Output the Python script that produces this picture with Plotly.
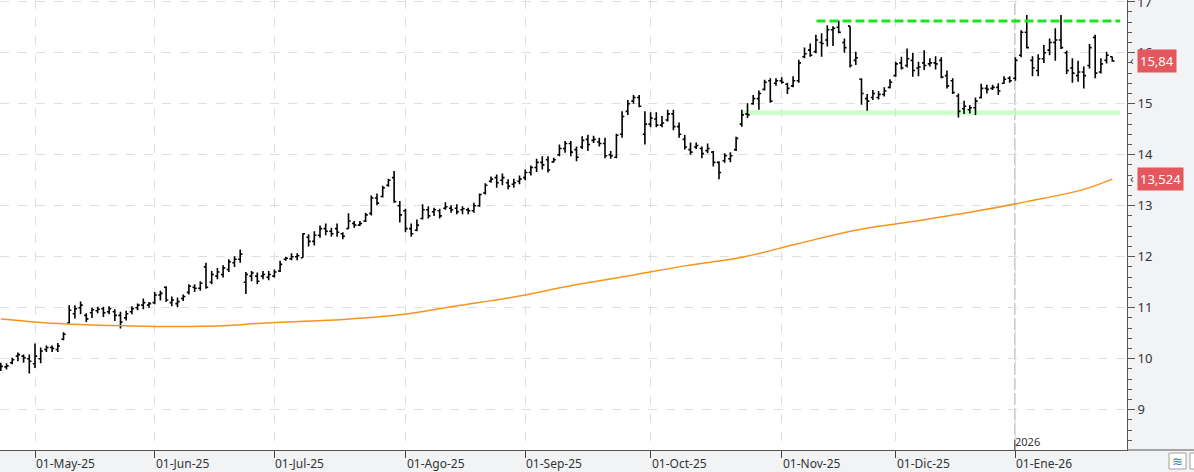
import plotly.graph_objects as go

# ---------------- data ----------------
# bar index = trading-day number (23-Apr-25 ... 27-Jan-26)
bar_open = [
    9.80, 9.84, 9.92, 10.05, 10.05, 10.00, 9.90, 10.00, 10.18, 10.22,
    10.18, 10.38, 10.70, 10.88, 11.00, 10.85, 10.90, 10.94, 10.98, 10.92,
    10.92, 10.85, 10.80, 10.92, 11.00, 11.05, 11.05, 11.10, 11.25, 11.40,
    11.10, 11.08, 11.18, 11.30, 11.40, 11.38, 11.80, 11.50, 11.62, 11.65,
    11.75, 11.88, 11.95, 11.50, 11.62, 11.62, 11.62, 11.60, 11.62, 11.72,
    11.95, 11.96, 12.00, 11.98, 12.38, 12.30, 12.42, 12.55, 12.50, 12.55,
    12.45, 12.55, 12.65, 12.62, 12.70, 12.85, 13.15, 13.18, 13.40, 13.55,
    13.00, 12.90, 12.55, 12.52, 12.75, 12.92, 12.88, 12.90, 12.95, 12.95,
    12.95, 12.92, 12.92, 12.90, 13.00, 13.25, 13.48, 13.55, 13.50, 13.45,
    13.42, 13.48, 13.55, 13.65, 13.75, 13.85, 13.90, 13.86, 14.00, 14.12,
    14.22, 14.10, 14.15, 14.30, 14.28, 14.25, 14.22, 14.00, 13.95, 14.40,
    14.85, 15.05, 15.12, 14.40, 14.60, 14.70, 14.58, 14.68, 14.80, 14.55,
    14.30, 14.10, 14.15, 14.12, 14.08, 14.05, 13.85, 13.88, 13.92, 14.10,
    14.60, 14.80, 15.00, 15.10, 15.28, 15.45, 15.40, 15.45, 15.38, 15.35,
    15.45, 15.92, 16.05, 16.02, 16.20, 16.25, 16.45, 16.50, 16.20, 16.52,
    15.85, 15.48, 15.10, 15.12, 15.12, 15.18, 15.32, 15.55, 15.80, 15.75,
    15.85, 15.70, 15.80, 15.78, 15.80, 15.85, 15.55, 15.45, 15.15, 14.90,
    14.88, 14.92, 15.12, 15.30, 15.30, 15.32, 15.40, 15.50, 15.50, 15.95,
    16.40, 15.85, 15.65, 15.88, 16.05, 16.20, 16.25, 16.00, 15.70, 15.55,
    15.62, 15.75, 16.30, 15.62, 15.85, 15.92,
]
bar_high = [
    9.92, 9.91, 10.02, 10.12, 10.08, 10.08, 10.30, 10.22, 10.26, 10.26,
    10.31, 10.52, 11.05, 11.05, 11.12, 10.89, 11.00, 11.02, 11.02, 11.03,
    10.97, 10.92, 10.94, 11.03, 11.08, 11.18, 11.11, 11.31, 11.33, 11.42,
    11.22, 11.20, 11.26, 11.46, 11.46, 11.52, 11.88, 11.72, 11.78, 11.83,
    11.95, 12.01, 12.14, 11.70, 11.72, 11.69, 11.72, 11.72, 11.75, 11.92,
    12.00, 12.07, 12.07, 12.46, 12.44, 12.50, 12.61, 12.65, 12.57, 12.65,
    12.48, 12.85, 12.70, 12.70, 12.86, 13.20, 13.24, 13.39, 13.53, 13.68,
    13.09, 12.94, 12.65, 12.73, 13.03, 12.99, 12.96, 12.94, 13.07, 13.01,
    13.03, 12.99, 12.96, 13.06, 13.24, 13.44, 13.57, 13.61, 13.63, 13.52,
    13.53, 13.59, 13.71, 13.79, 13.92, 13.97, 13.97, 13.94, 14.20, 14.27,
    14.27, 14.16, 14.36, 14.39, 14.37, 14.33, 14.33, 14.07, 14.41, 14.85,
    15.07, 15.17, 15.17, 14.85, 14.83, 14.83, 14.76, 14.88, 14.88, 14.63,
    14.39, 14.24, 14.24, 14.16, 14.22, 14.07, 13.87, 14.03, 14.05, 14.35,
    14.88, 15.01, 15.17, 15.26, 15.47, 15.50, 15.50, 15.52, 15.41, 15.54,
    15.86, 16.10, 16.18, 16.35, 16.38, 16.54, 16.52, 16.63, 16.28, 16.52,
    16.02, 15.50, 15.19, 15.27, 15.25, 15.32, 15.48, 15.82, 15.92, 16.08,
    16.00, 15.82, 16.05, 15.89, 15.93, 15.91, 15.65, 15.50, 15.20, 15.06,
    14.97, 15.12, 15.39, 15.37, 15.37, 15.40, 15.54, 15.54, 15.91, 16.44,
    16.74, 15.93, 15.97, 16.15, 16.28, 16.48, 16.74, 16.04, 15.89, 15.84,
    15.73, 16.17, 16.35, 15.89, 16.02, 15.92,
]
bar_low = [
    9.76, 9.79, 9.89, 9.95, 9.92, 9.71, 9.82, 9.91, 10.13, 10.13,
    10.13, 10.36, 10.69, 10.79, 10.87, 10.72, 10.80, 10.89, 10.82, 10.87,
    10.74, 10.59, 10.75, 10.87, 10.95, 10.97, 11.00, 11.07, 11.14, 11.11,
    11.03, 11.01, 11.13, 11.26, 11.31, 11.33, 11.37, 11.46, 11.56, 11.59,
    11.70, 11.80, 11.88, 11.27, 11.52, 11.46, 11.56, 11.54, 11.59, 11.70,
    11.92, 11.93, 11.93, 11.98, 12.20, 12.22, 12.37, 12.42, 12.39, 12.39,
    12.34, 12.55, 12.57, 12.60, 12.68, 12.81, 13.01, 13.16, 13.37, 13.06,
    12.67, 12.48, 12.39, 12.50, 12.73, 12.75, 12.80, 12.75, 12.92, 12.86,
    12.83, 12.83, 12.83, 12.86, 12.98, 13.22, 13.45, 13.35, 13.40, 13.32,
    13.35, 13.42, 13.50, 13.59, 13.66, 13.71, 13.65, 13.84, 13.97, 14.04,
    13.97, 13.87, 14.11, 14.07, 14.23, 14.16, 13.93, 13.92, 13.93, 14.33,
    14.78, 15.00, 14.93, 14.20, 14.54, 14.54, 14.54, 14.65, 14.48, 14.33,
    14.10, 14.00, 14.11, 13.93, 14.03, 13.77, 13.52, 13.84, 13.85, 14.07,
    14.55, 14.72, 14.98, 14.88, 15.26, 15.02, 15.35, 15.39, 15.19, 15.32,
    15.41, 15.89, 15.92, 15.99, 15.92, 16.12, 16.13, 16.38, 16.00, 15.71,
    15.76, 14.98, 14.86, 15.07, 15.08, 15.14, 15.30, 15.53, 15.67, 15.71,
    15.53, 15.54, 15.66, 15.73, 15.67, 15.50, 15.30, 15.19, 14.73, 14.80,
    14.81, 14.78, 15.10, 15.20, 15.27, 15.17, 15.39, 15.41, 15.45, 15.91,
    16.08, 15.54, 15.54, 15.80, 15.95, 15.84, 16.07, 15.58, 15.41, 15.43,
    15.30, 15.69, 15.50, 15.59, 15.79, 15.82,
]
bar_close = [
    9.85, 9.86, 9.98, 10.08, 10.02, 9.95, 10.05, 10.15, 10.22, 10.20,
    10.25, 10.48, 10.95, 10.98, 11.05, 10.78, 10.96, 10.97, 10.90, 10.98,
    10.85, 10.72, 10.88, 10.98, 11.05, 11.10, 11.08, 11.25, 11.28, 11.15,
    11.15, 11.12, 11.22, 11.42, 11.38, 11.48, 11.40, 11.65, 11.70, 11.78,
    11.90, 11.95, 12.05, 11.65, 11.68, 11.52, 11.65, 11.65, 11.70, 11.85,
    11.97, 12.00, 12.02, 12.45, 12.30, 12.42, 12.55, 12.50, 12.45, 12.48,
    12.40, 12.70, 12.62, 12.65, 12.82, 13.15, 13.05, 13.35, 13.50, 13.08,
    12.82, 12.55, 12.45, 12.62, 12.92, 12.80, 12.92, 12.80, 12.98, 12.92,
    12.88, 12.94, 12.90, 13.00, 13.22, 13.40, 13.52, 13.45, 13.55, 13.38,
    13.45, 13.52, 13.65, 13.75, 13.85, 13.80, 13.70, 13.90, 14.12, 14.22,
    14.05, 13.95, 14.28, 14.20, 14.30, 14.22, 13.98, 13.98, 14.38, 14.75,
    15.00, 15.12, 14.95, 14.60, 14.72, 14.58, 14.62, 14.80, 14.55, 14.40,
    14.15, 14.05, 14.18, 14.02, 14.12, 13.85, 13.65, 13.98, 13.98, 14.32,
    14.78, 14.78, 15.10, 15.20, 15.42, 15.05, 15.45, 15.42, 15.30, 15.45,
    15.80, 15.98, 15.95, 16.25, 16.18, 16.45, 16.48, 16.40, 16.10, 15.75,
    15.90, 15.20, 15.05, 15.20, 15.18, 15.25, 15.42, 15.78, 15.70, 15.88,
    15.65, 15.72, 15.75, 15.80, 15.78, 15.52, 15.35, 15.22, 14.85, 14.95,
    14.92, 15.05, 15.30, 15.28, 15.32, 15.25, 15.48, 15.45, 15.85, 16.40,
    16.10, 15.70, 15.88, 16.00, 16.20, 16.25, 16.10, 15.65, 15.60, 15.62,
    15.55, 16.10, 15.60, 15.78, 15.95, 15.84,
]

# moving average read at sample bars
ma_idx = [0, 10, 20, 30, 40, 45, 50, 60, 70, 80, 90, 100, 110, 120, 130,
          140, 150, 160, 170, 180, 190, 195]
ma_val = [10.78, 10.69, 10.65, 10.63, 10.65, 10.69, 10.72, 10.77, 10.86, 11.04,
          11.21, 11.43, 11.62, 11.82, 11.99, 12.26, 12.52, 12.69, 12.87, 13.08,
          13.32, 13.52]

month_idx = [6, 27, 48, 71, 92, 114, 137, 157, 178]
month_labels = ["01-May-25", "01-Jun-25", "01-Jul-25", "01-Ago-25", "01-Sep-25",
                "01-Oct-25", "01-Nov-25", "01-Dic-25", "01-Ene-26"]
year_idx = 178
year_label = "2026"
top_tick = 17   # top tick label, partly cut by the window edge

resistance = {"level": 16.62, "from": 143.1, "to": 196.4}
support = {"level": 14.82, "from": 130.0, "to": 196.4}

last_price_label = ("15,84", 15.84)
ma_last_label = ("13,524", 13.524)

# ---------------- figure ----------------
W, H = 1194, 472
PW, PH = 1127, 450          # plot area in px
FONT = "Noto Sans"

n = len(bar_close)
xs = list(range(n))

fig = go.Figure()
fig.add_trace(go.Ohlc(
    x=xs, open=bar_open, high=bar_high, low=bar_low, close=bar_close,
    increasing=dict(line=dict(color="#000000", width=1.6)),
    decreasing=dict(line=dict(color="#000000", width=1.6)),
    tickwidth=0.38, showlegend=False, hoverinfo="skip"))

fig.add_trace(go.Scatter(
    x=ma_idx, y=ma_val, mode="lines", line=dict(color="#f7941d", width=1.5, shape="spline"),
    showlegend=False, hoverinfo="skip"))

def px_x(p):
    return p / PW

def px_y(p):
    return (PH - p) / PH

shapes = []
# support / resistance lines
shapes.append(dict(type="line", xref="x", yref="y", x0=support["from"], x1=support["to"],
                   y0=support["level"], y1=support["level"],
                   line=dict(color="#ccffcc", width=5), layer="below"))
shapes.append(dict(type="line", xref="x", yref="y", x0=resistance["from"], x1=resistance["to"],
                   y0=resistance["level"], y1=resistance["level"],
                   line=dict(color="#1de51d", width=3, dash="9px,4px")))
# year separator
shapes.append(dict(type="line", xref="x", yref="paper", x0=year_idx - 0.1, x1=year_idx - 0.1,
                   y0=0, y1=1, line=dict(color="#c8c8c8", width=1.5, dash="12px,3px"),
                   layer="below"))
shapes.append(dict(type="line", xref="x", yref="paper", x0=year_idx - 0.1, x1=year_idx - 0.1,
                   y0=0, y1=px_y(440), line=dict(color="#444444", width=1)))
# bottom line continuing under right axis panel
shapes.append(dict(type="line", xref="paper", yref="paper", x0=1, x1=W / PW, y0=0, y1=0,
                   line=dict(color="#555555", width=1)))
# bottom-right icons
shapes.append(dict(type="rect", xref="paper", yref="paper", x0=px_x(1169), x1=px_x(1186),
                   y0=px_y(469), y1=px_y(453), line=dict(color="#a0a0a0", width=1),
                   fillcolor="#ffffff"))
shapes.append(dict(type="rect", xref="paper", yref="paper", x0=px_x(1190), x1=px_x(1200),
                   y0=px_y(469), y1=px_y(453), line=dict(color="#a0a0a0", width=1),
                   fillcolor="#ffffff"))

annotations = []
for idx, lab in zip(month_idx, month_labels):
    annotations.append(dict(x=idx, xref="x", y=0, yref="paper", text=lab, showarrow=False,
                            xanchor="left", yanchor="top", xshift=-1, yshift=-3,
                            font=dict(family=FONT, size=12, color="#333333")))
annotations.append(dict(x=year_idx, xref="x", y=0, yref="paper", text=year_label, showarrow=False,
                        xanchor="left", yanchor="bottom", xshift=-2, yshift=-1,
                        font=dict(family=FONT, size=11, color="#333333")))
annotations.append(dict(x=px_x(1136), xref="paper", y=top_tick, yref="y", text=str(top_tick),
                        showarrow=False, xanchor="left", yanchor="middle", borderpad=0,
                        font=dict(family=FONT, size=13, color="#333333")))
for txt, val in (last_price_label, ma_last_label):
    annotations.append(dict(x=px_x(1137), xref="paper", y=val, yref="y", text=txt,
                            showarrow=False, xanchor="left", yanchor="middle",
                            bgcolor="#e4575c", borderpad=2,
                            font=dict(family=FONT, size=13, color="#ffffff")))
    annotations.append(dict(x=px_x(1128), xref="paper", y=val, yref="y", text="‹",
                            showarrow=False, xanchor="left", yanchor="middle",
                            font=dict(family=FONT, size=12, color="#444444")))
annotations.append(dict(x=px_x(1177.5), xref="paper", y=px_y(461), yref="paper", text="≋",
                        showarrow=False, xanchor="center", yanchor="middle",
                        font=dict(family=FONT, size=13, color="#3a7bd5")))

fig.update_layout(
    width=W, height=H,
    margin=dict(l=0, r=W - PW, t=0, b=H - PH),
    paper_bgcolor="#f2f3f5", plot_bgcolor="#ffffff",
    font=dict(family=FONT, size=12, color="#333333"),
    shapes=shapes, annotations=annotations,
    xaxis=dict(
        range=[-0.14, 197.58], tickvals=month_idx, showticklabels=False,
        ticks="outside", ticklen=7, tickcolor="#444444", tickwidth=1,
        showgrid=True, gridcolor="#dedede", griddash="dash", gridwidth=1,
        showline=True, linecolor="#555555", linewidth=1, zeroline=False,
        rangeslider=dict(visible=False), fixedrange=True),
    yaxis=dict(
        side="right", range=[8.21, 17.033], tick0=0, dtick=1,
        ticks="outside", ticklen=7, tickcolor="#555555", tickwidth=1,
        minor=dict(dtick=0.2, ticks="outside", ticklen=4, tickcolor="#555555", showgrid=False),
        showgrid=True, gridcolor="#dedede", griddash="dash", gridwidth=1,
        showline=True, linecolor="#555555", linewidth=1, zeroline=False,
        automargin=False,
        tickfont=dict(family=FONT, size=13, color="#333333"), fixedrange=True),
)

fig.write_html("out.html")
